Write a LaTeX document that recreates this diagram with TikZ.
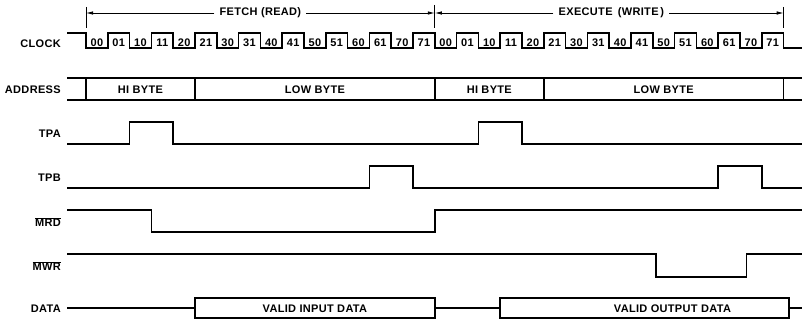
\documentclass[tikz,border=0pt]{standalone}
\usepackage{fontspec}
\setmainfont{Liberation Sans}[LetterSpace=3]
\usetikzlibrary{arrows.meta}
\tikzset{
  sig/.style={line width=1.7pt},
  tick/.style={line width=0.8pt},
  span/.style={line width=0.8pt,-{Latex[length=7pt,width=3.5pt]}},
  lbl/.style={font=\fontsize{11}{13}\selectfont\bfseries,inner sep=0pt},
  sname/.style={lbl,anchor=east}
}
\begin{document}
\begin{tikzpicture}[x=21.8pt,y=-1pt]
\useasboundingbox (-3.945,0) rectangle (32.844,321);
% fetch / execute spans
\draw[tick] (0,7) -- (0,28);
\draw[tick] (16,5) -- (16,28);
\draw[tick] (32,7) -- (32,28);
\coordinate (f0) at (0,13);
\coordinate (f1) at (16,13);
\coordinate (f2) at (32,13);
\node[lbl,inner xsep=5pt] (fetch) at (8,13) {FETCH (READ)};
\node[lbl,inner xsep=5pt] (exec) at (24.1,13) {EXECUTE\, (WRITE\,)};
\draw[span] (fetch) -- (f0);
\draw[span] (fetch) -- (f1);
\draw[span] (exec) -- (f1);
\draw[span] (exec) -- (f2);
%
\node[sname] (clock) at (-1.15,44) {CLOCK};
\draw[sig] (-0.87,33) \foreach \t in {0,2,...,30}{ -- (\t,33) -- (\t,48) -- (\t+1,48) -- (\t+1,33)} -- (32,33) -- (32,48) -- (32.84,48);
\foreach \c in {0,16} \foreach \s in {0,...,7} \foreach \p in {0,1}
  \node[lbl] (ck\c\s\p) at (\c+2*\s+\p+0.5,42.5) {\s\p};
%
\node[sname] (addr) at (-1.15,90) {ADDRESS};
\draw[sig] (-0.87,78) -- (32.84,78) (-0.87,100) -- (32.84,100);
\foreach \t in {0,5,16,21,32} \draw[sig] (\t,78) -- (\t,100);
\node[lbl] (hi1) at (2.5,90) {HI BYTE};
\node[lbl] (lo1) at (10.5,90) {LOW BYTE};
\node[lbl] (hi2) at (18.5,90) {HI BYTE};
\node[lbl] (lo2) at (26.5,90) {LOW BYTE};
%
\node[sname] (tpa) at (-1.15,134) {TPA};
\draw[sig] (-0.87,144) -- (2,144) -- (2,122) -- (4,122) -- (4,144) -- (18,144) -- (18,122) -- (20,122) -- (20,144) -- (32.84,144);
%
\node[sname] (tpb) at (-1.15,178) {TPB};
\draw[sig] (-0.87,188) -- (13,188) -- (13,166) -- (15,166) -- (15,188) -- (29,188) -- (29,166) -- (31,166) -- (31,188) -- (32.84,188);
%
\node[sname] (mrd) at (-1.15,222) {$\overline{\mbox{MRD}}$};
\draw[sig] (-0.87,210) -- (3,210) -- (3,232) -- (16,232) -- (16,210) -- (32.84,210);
%
\node[sname] (mwr) at (-1.15,266) {$\overline{\mbox{MWR}}$};
\draw[sig] (-0.87,254) -- (26.15,254) -- (26.15,277) -- (30.3,277) -- (30.3,254) -- (32.84,254);
%
\node[sname] (data) at (-1.15,309) {DATA};
\draw[sig] (-0.87,308) -- (5,308) (16,308) -- (19,308) (32.25,308) -- (32.84,308);
\draw[sig] (5,298) rectangle (16,318);
\draw[sig] (19,298) rectangle (32.25,318);
\node[lbl] (din) at (10.5,309) {VALID INPUT DATA};
\node[lbl] (dout) at (26.9,309) {VALID OUTPUT DATA};
%
\end{tikzpicture}
\end{document}
